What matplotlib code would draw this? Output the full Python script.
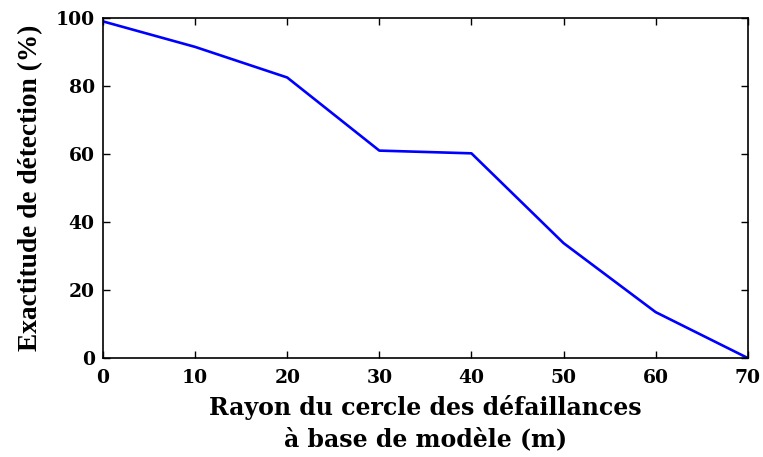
import matplotlib
matplotlib.use("Agg")
import matplotlib.pyplot as plt

# Detection accuracy versus the model-based fault circle radius
radius_m = [0, 10, 20, 30, 40, 50, 60, 70]
accuracy_pct = [99, 91.5, 82.5, 61, 60.2, 33.8, 13.5, 0]

x_ticks = [0, 10, 20, 30, 40, 50, 60, 70]
y_ticks = [0, 20, 40, 60, 80, 100]

plt.rcParams["font.family"] = ["DejaVu Serif"]
plt.rcParams["font.weight"] = "bold"

fig = plt.figure(figsize=(7.63, 4.57), dpi=100)
ax = fig.add_axes([0.135, 0.2166, 0.845, 0.744])

ax.plot(radius_m, accuracy_pct, color="#0000ff", linewidth=1.9)

ax.set_xlim(0, 70)
ax.set_ylim(0, 100)
ax.set_xticks(x_ticks)
ax.set_yticks(y_ticks)
ax.tick_params(direction="in", top=True, right=True, length=5, width=1,
               labelsize=13.5)
ax.tick_params(axis="x", pad=8)
ax.tick_params(axis="y", pad=6)
for lbl in ax.get_xticklabels() + ax.get_yticklabels():
    lbl.set_fontweight("bold")
for s in ax.spines.values():
    s.set_linewidth(1.2)

ax.set_xlabel("Rayon du cercle des défaillances\nà base de modèle (m)",
              fontsize=17, fontweight="bold", linespacing=1.38, labelpad=6)
ax.set_ylabel("Exactitude de détection (%)", fontsize=19.7, fontweight="bold",
              family=["Liberation Serif", "DejaVu Serif"], labelpad=9)

fig.savefig("out.png", dpi=100)
